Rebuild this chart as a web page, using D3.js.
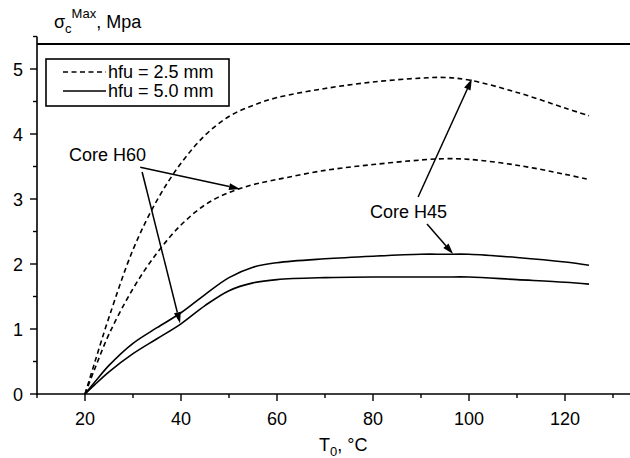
<!DOCTYPE html>
<html>
<head>
<meta charset="utf-8">
<script src="https://cdn.jsdelivr.net/npm/d3@7"></script>
<style>
  html, body { margin: 0; padding: 0; background: #fff; }
  svg { display: block; font-family: "Liberation Sans", Arial, sans-serif; }
</style>
</head>
<body>
<svg id="chart" width="630" height="458"></svg>
<script>
// Temperatures T0 (°C) shared by all curves
const temps = [20, 22, 25, 30, 35, 40, 45, 50, 55, 60, 70, 80, 90, 95, 100, 110, 120, 125];

// hfu = 2.5 mm (dashed)
const coreH45Thin = [0, 0.48, 1.18, 2.22, 2.98, 3.55, 3.98, 4.27, 4.44, 4.56, 4.70, 4.80, 4.86, 4.87, 4.83, 4.64, 4.40, 4.28];
const coreH60Thin = [0, 0.38, 0.92, 1.62, 2.17, 2.60, 2.91, 3.10, 3.22, 3.30, 3.44, 3.53, 3.60, 3.62, 3.61, 3.52, 3.38, 3.30];
// hfu = 5.0 mm (solid)
const coreH45Thick = [0, 0.18, 0.44, 0.78, 1.02, 1.25, 1.53, 1.79, 1.95, 2.02, 2.08, 2.12, 2.15, 2.15, 2.15, 2.10, 2.03, 1.98];
const coreH60Thick = [0, 0.14, 0.34, 0.62, 0.85, 1.08, 1.36, 1.59, 1.71, 1.76, 1.79, 1.80, 1.80, 1.80, 1.80, 1.76, 1.72, 1.69];

const xTicks = [20, 40, 60, 80, 100, 120];
const yTicks = [0, 1, 2, 3, 4, 5];
const legendLabels = ['hfu = 2.5 mm', 'hfu = 5.0 mm'];

// annotation arrows, in data units: [fromT, fromV, toT, toV]
const h60Arrows = [[31.5, 3.49, 52.3, 3.155], [31.9, 3.415, 39.8, 1.09]];
const h45Arrows = [[89.4, 3.03, 100.6, 4.846], [91.25, 2.615, 96.7, 2.154]];

const svg = d3.select('#chart');
const x = d3.scaleLinear().domain([10, 130]).range([37, 613]);
const y = d3.scaleLinear().domain([0, 5.5]).range([394, 36.5]);
const FONT = 18;

// top frame line
svg.append('line')
  .attr('x1', 37).attr('x2', 630)
  .attr('y1', 44).attr('y2', 44)
  .attr('stroke', '#000').attr('stroke-width', 2);

// x axis
svg.append('line')
  .attr('x1', 37).attr('x2', 630)
  .attr('y1', y(0)).attr('y2', y(0))
  .attr('stroke', '#000').attr('stroke-width', 1.6);
d3.range(10, 131, 10).forEach(t => {
  const major = t % 20 === 0;
  svg.append('line')
    .attr('x1', x(t)).attr('x2', x(t))
    .attr('y1', y(0)).attr('y2', y(0) + (major ? 7 : 4))
    .attr('stroke', '#000').attr('stroke-width', 1.4);
});
svg.selectAll('text.xtick')
  .data(xTicks)
  .join('text')
  .attr('class', 'xtick')
  .attr('x', d => x(d))
  .attr('y', 425)
  .attr('text-anchor', 'middle')
  .attr('font-size', FONT)
  .text(d => d);

// y axis
svg.append('line')
  .attr('x1', x(10)).attr('x2', x(10))
  .attr('y1', y(0) + 1).attr('y2', y(5.5))
  .attr('stroke', '#000').attr('stroke-width', 1.6);
d3.range(0, 5.51, 0.5).forEach(v => {
  const major = Math.abs(v - Math.round(v)) < 1e-6;
  svg.append('line')
    .attr('x1', x(10) - (major ? 7 : 4)).attr('x2', x(10))
    .attr('y1', y(v)).attr('y2', y(v))
    .attr('stroke', '#000').attr('stroke-width', 1.4);
});
svg.selectAll('text.ytick')
  .data(yTicks)
  .join('text')
  .attr('class', 'ytick')
  .attr('x', 23)
  .attr('y', d => y(d) + 6.5)
  .attr('text-anchor', 'end')
  .attr('font-size', FONT)
  .text(d => d);

// axis titles
const yTitle = svg.append('text').attr('x', 54).attr('y', 28).attr('font-size', FONT);
yTitle.append('tspan').text('σ');
yTitle.append('tspan').attr('font-size', 13).attr('dy', 5).text('c');
yTitle.append('tspan').attr('font-size', 13).attr('dy', -15).text('Max');
yTitle.append('tspan').attr('dy', 10).text(', Mpa');

const xTitle = svg.append('text').attr('x', 319).attr('y', 451).attr('font-size', FONT);
xTitle.append('tspan').text('T');
xTitle.append('tspan').attr('font-size', 13).attr('dy', 5).text('0');
xTitle.append('tspan').attr('dy', -5).text(', °C');

// curves
const line = d3.line()
  .x((d, i) => x(temps[i]))
  .y(d => y(d))
  .curve(d3.curveCatmullRom.alpha(0.5));

const series = [
  { values: coreH45Thin, dash: '5,3.5' },
  { values: coreH60Thin, dash: '5,3.5' },
  { values: coreH45Thick, dash: null },
  { values: coreH60Thick, dash: null }
];
svg.selectAll('path.curve')
  .data(series)
  .join('path')
  .attr('class', 'curve')
  .attr('d', d => line(d.values))
  .attr('fill', 'none')
  .attr('stroke', '#000')
  .attr('stroke-width', 1.6)
  .attr('stroke-dasharray', d => d.dash);

// annotation arrows
function drawArrow(a) {
  const x1 = x(a[0]), y1 = y(a[1]), x2 = x(a[2]), y2 = y(a[3]);
  const ang = Math.atan2(y2 - y1, x2 - x1);
  const len = 11, half = 3.5;
  const bx = x2 - len * Math.cos(ang), by = y2 - len * Math.sin(ang);
  svg.append('line')
    .attr('x1', x1).attr('y1', y1).attr('x2', bx).attr('y2', by)
    .attr('stroke', '#000').attr('stroke-width', 1.5);
  svg.append('polygon')
    .attr('points', [
      [x2, y2],
      [bx + half * Math.sin(ang), by - half * Math.cos(ang)],
      [bx - half * Math.sin(ang), by + half * Math.cos(ang)]
    ].map(p => p.join(',')).join(' '))
    .attr('fill', '#000');
}
h60Arrows.forEach(drawArrow);
h45Arrows.forEach(drawArrow);

svg.append('text')
  .attr('x', 69).attr('y', 161)
  .attr('font-size', FONT)
  .text('Core H60');
svg.append('text')
  .attr('x', 370).attr('y', 218)
  .attr('font-size', FONT)
  .text('Core H45');

// legend
const legend = svg.append('g');
legend.append('rect')
  .attr('x', 46).attr('y', 59)
  .attr('width', 183).attr('height', 47)
  .attr('fill', '#fff')
  .attr('stroke', '#000').attr('stroke-width', 1.6);
legendLabels.forEach((label, i) => {
  const ly = 72 + i * 19;
  legend.append('line')
    .attr('x1', 63).attr('x2', 106)
    .attr('y1', ly).attr('y2', ly)
    .attr('stroke', '#000').attr('stroke-width', 1.4)
    .attr('stroke-dasharray', i === 0 ? '5,3.5' : null);
  legend.append('text')
    .attr('x', 108).attr('y', ly + 6)
    .attr('font-size', FONT)
    .text(label);
});
</script>
</body>
</html>
